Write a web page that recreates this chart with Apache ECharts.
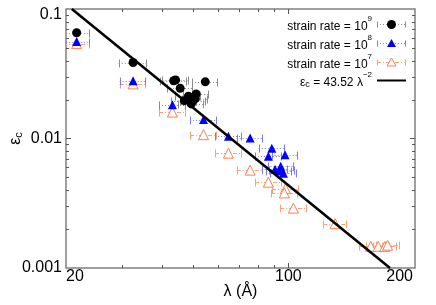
<!DOCTYPE html>
<html><head><meta charset="utf-8">
<script src="https://cdn.jsdelivr.net/npm/echarts@6/dist/echarts.min.js"></script>
<style>html,body{margin:0;padding:0;background:#fff}#c{width:436px;height:305px}</style>
</head><body><div id="c"></div>
<script>
// ---- data ----
const lam9 = [21.6, 32.5, 43.6, 44.2, 45.7, 54.8, 48.5, 51.3, 47.1, 50.0, 49.5, 51.0];
const eps9 = [0.0655, 0.0386, 0.0279, 0.0283, 0.0244, 0.0274, 0.0212, 0.0221, 0.0196, 0.0194, 0.0185, 0.0203];
const err9 = [2.0, 3.2, 4.0, 4.0, 4.2, 5.0, 4.4, 4.6, 4.3, 4.5, 4.5, 4.6];

const lam8 = [21.6, 32.5, 43.2, 54.1, 64.8, 75.8, 88.7, 86.5, 97.6, 90.8, 94.6, 95.3, 96.5, 93.7];
const eps8 = [0.056, 0.0279, 0.0182, 0.0140, 0.0104, 0.0101, 0.0084, 0.0073, 0.0075, 0.0058, 0.0061, 0.0057, 0.0054, 0.0056];
const err8 = [2.0, 3.0, 4.0, 5.0, 6.0, 7.0, 8.0, 8.0, 9.0, 8.3, 8.6, 8.7, 8.8, 8.5];

const lam7 = [21.6, 32.5, 43.2, 54.1, 64.8, 75.8, 86.5, 97.9, 97.1, 103.7, 140.2, 181.4, 191.6, 201.0, 205.0];
const eps7 = [0.054, 0.0264, 0.016, 0.0107, 0.0077, 0.0057, 0.0046, 0.0041, 0.0038, 0.0029, 0.0022, 0.00147, 0.00147, 0.00147, 0.0015];
const err7 = [2.0, 3.0, 4.0, 5.0, 6.0, 7.0, 8.0, 9.0, 9.0, 9.5, 11.5, 15.0, 16.0, 17.0, 17.0];

const fitLam = [20.86, 208.6];
const fitEps = [0.1, 0.001];

const xMinorTicks = [30, 40, 50, 60, 70, 80, 90];
const xMajorTicks = [100];
const xLabelVals = [20, 100, 200];
const xLabelText = ['20', '100', '200'];
const yMinorTicks = [0.002, 0.003, 0.004, 0.005, 0.006, 0.007, 0.008, 0.009, 0.02, 0.03, 0.04, 0.05, 0.06, 0.07, 0.08, 0.09];
const yMajorTicks = [0.01];
const yLabelVals = [0.1, 0.01, 0.001];
const yLabelText = ['0.1', '0.01', '0.001'];

const legendText = ['strain rate = 10{sup|9}', 'strain rate = 10{sup|8}', 'strain rate = 10{sup|7}', 'ε{sub|c} = 43.52 λ{sup|−2}'];

// ---- styling ----
const FONT = "'Liberation Sans', Arial, Helvetica, sans-serif";
const C9 = '#000000', C8 = '#0000ff', C7 = '#ff7f50';
const E9 = '#8c8c8c', E8 = '#7a7aff', E7 = '#ffa07a';
const FRAME = '#808080';

const chart = echarts.init(document.getElementById('c'), null, {renderer: 'canvas'});

function errData(l, e, r) { return l.map((v, i) => [v - r[i], v + r[i], e[i]]); }
function ptData(l, e) { return l.map((v, i) => [v, e[i]]); }

function errRenderer(color, dash) {
  return function (params, api) {
    const y = api.value(2);
    const a = api.coord([api.value(0), y]);
    const b = api.coord([api.value(1), y]);
    const yy = Math.round(a[1]) + 0.5;
    const h = 4;
    return {type: 'group', children: [
      {type: 'line', shape: {x1: a[0], y1: yy, x2: b[0], y2: yy}, style: {stroke: color, lineWidth: 1, lineDash: dash}},
      {type: 'line', shape: {x1: Math.round(a[0]) + 0.5, y1: yy - h, x2: Math.round(a[0]) + 0.5, y2: yy + h}, style: {stroke: color, lineWidth: 1}},
      {type: 'line', shape: {x1: Math.round(b[0]) + 0.5, y1: yy - h, x2: Math.round(b[0]) + 0.5, y2: yy + h}, style: {stroke: color, lineWidth: 1}}
    ]};
  };
}

const xTickData = xMinorTicks.map(v => [v, 0.01, 0]).concat(xMajorTicks.map(v => [v, 0.01, 1]));
const yTickData = yMinorTicks.map(v => [30, v, 0]).concat(yMajorTicks.map(v => [30, v, 1]));

function xTickRender(params, api) {
  const cs = params.coordSys;
  const x = Math.round(api.coord([api.value(0), 0.01])[0]) + 0.5;
  const len = api.value(2) ? 5 : 3;
  const bot = cs.y + cs.height, top = cs.y;
  const st = {stroke: '#555', lineWidth: 1};
  return {type: 'group', children: [
    {type: 'line', shape: {x1: x, y1: bot, x2: x, y2: bot - len}, style: st},
    {type: 'line', shape: {x1: x, y1: top, x2: x, y2: top + len}, style: st}
  ]};
}
function yTickRender(params, api) {
  const cs = params.coordSys;
  const y = Math.round(api.coord([30, api.value(1)])[1]) + 0.5;
  const len = api.value(2) ? 5 : 3;
  const l = cs.x, r = cs.x + cs.width;
  const st = {stroke: '#555', lineWidth: 1};
  return {type: 'group', children: [
    {type: 'line', shape: {x1: l, y1: y, x2: l + len, y2: y}, style: st},
    {type: 'line', shape: {x1: r, y1: y, x2: r - len, y2: y}, style: st}
  ]};
}
const xLabelAlign = ['left', 'center', 'right'];
function xLabelRender(params, api) {
  const cs = params.coordSys;
  const i = params.dataIndex;
  let x = api.coord([api.value(0), 0.01])[0];
  if (xLabelAlign[i] === 'right') x = cs.x + cs.width - 2;
  if (xLabelAlign[i] === 'left') x = cs.x;
  return {type: 'text', style: {x: x, y: cs.y + cs.height + 1, text: xLabelText[i], fill: '#000',
    font: '16px ' + FONT, align: xLabelAlign[i], verticalAlign: 'top'}};
}
function yLabelRender(params, api) {
  const cs = params.coordSys;
  const i = params.dataIndex;
  let y = api.coord([30, api.value(1)])[1];
  y = Math.max(y, cs.y + 6);
  return {type: 'text', style: {x: cs.x - 4, y: y, text: yLabelText[i], fill: '#000',
    font: '16px ' + FONT, align: 'right', verticalAlign: 'middle'}};
}

// legend (drawn as graphic)
const LX = 372, LS0 = 377, LS1 = 406, LM = 391.5;
const LY = [24, 43, 62, 80];
const richL = {
  base: {fontSize: 12, fontFamily: FONT, lineHeight: 18, verticalAlign: 'bottom', color: '#000'},
  sup: {fontSize: 8, fontFamily: FONT, lineHeight: 8, verticalAlign: 'top', color: '#000'},
  sub: {fontSize: 9, fontFamily: FONT, lineHeight: 8, verticalAlign: 'bottom', color: '#000'}
};
function legendSample(y, color, dash, marker) {
  const yy = y + 0.5;
  const els = [
    {type: 'line', shape: {x1: LS0, y1: yy, x2: LS1, y2: yy}, style: {stroke: color, lineWidth: 1, lineDash: dash}},
    {type: 'line', shape: {x1: LS0 + 0.5, y1: yy - 3, x2: LS0 + 0.5, y2: yy + 3}, style: {stroke: color, lineWidth: 1}},
    {type: 'line', shape: {x1: LS1 - 0.5, y1: yy - 3, x2: LS1 - 0.5, y2: yy + 3}, style: {stroke: color, lineWidth: 1}}
  ];
  if (marker === 'circle') els.push({type: 'circle', shape: {cx: LM, cy: yy, r: 4.5}, style: {fill: C9}});
  if (marker === 'tri') els.push({type: 'polygon', shape: {points: [[LM, yy - 4.5], [LM + 4.5, yy + 3.5], [LM - 4.5, yy + 3.5]]}, style: {fill: C8}});
  if (marker === 'otri') els.push({type: 'polygon', shape: {points: [[LM, yy - 4.5], [LM + 4.5, yy + 3.5], [LM - 4.5, yy + 3.5]]}, style: {fill: '#fff', stroke: C7, lineWidth: 1}});
  return els;
}
const graphics = [];
legendText.forEach((t, i) => {
  graphics.push({type: 'text', style: {x: LX, y: LY[i], text: t.replace(/^([^{]*)/, '{base|$1}').replace(/\}([^{}]+)\{/g, '}{base|$1}{'),
    rich: richL, align: 'right', verticalAlign: 'middle'}, z: 100});
});
[].concat(legendSample(LY[0], E9, [1, 2], 'circle'), legendSample(LY[1], E8, [1, 2], 'tri'), legendSample(LY[2], E7, [4, 2, 1, 2], 'otri'))
  .forEach(e => { e.z = 100; graphics.push(e); });
graphics.push({type: 'line', shape: {x1: LS0, y1: LY[3] + 0.5, x2: LS1, y2: LY[3] + 0.5}, style: {stroke: '#000', lineWidth: 2}, z: 100});

const option = {
  animation: false,
  backgroundColor: '#fff',
  grid: {left: 66, right: 21, top: 9, bottom: 34, show: true, borderColor: FRAME, borderWidth: 1.5, containLabel: false},
  xAxis: {type: 'log', min: 20, max: 250, logBase: 10,
    axisLine: {show: false}, axisTick: {show: false}, axisLabel: {show: false}, splitLine: {show: false},
    name: 'λ (Å)', nameLocation: 'middle', nameGap: 16,
    nameTextStyle: {fontFamily: FONT, fontSize: 16, color: '#000'}},
  yAxis: {type: 'log', min: 0.001, max: 0.1, logBase: 10,
    axisLine: {show: false}, axisTick: {show: false}, axisLabel: {show: false}, splitLine: {show: false},
    name: '{b|ε}{s|c}', nameLocation: 'middle', nameGap: 42, nameRotate: 90,
    nameTextStyle: {fontFamily: FONT, fontSize: 16, color: '#000',
      rich: {b: {fontSize: 16, fontFamily: FONT, lineHeight: 20, verticalAlign: 'bottom'},
             s: {fontSize: 11, fontFamily: FONT, lineHeight: 10, verticalAlign: 'bottom'}}}},
  graphic: graphics,
  series: [
    {type: 'custom', name: 'xticks', renderItem: xTickRender, data: xTickData, encode: {x: 0, y: 1}, z: 5, silent: true},
    {type: 'custom', name: 'yticks', renderItem: yTickRender, data: yTickData, encode: {x: 0, y: 1}, z: 5, silent: true},
    {type: 'custom', name: 'xlabels', renderItem: xLabelRender, data: xLabelVals.map(v => [v, 0.01]), encode: {x: 0, y: 1}, clip: false, silent: true},
    {type: 'custom', name: 'ylabels', renderItem: yLabelRender, data: yLabelVals.map(v => [30, v]), encode: {x: 0, y: 1}, clip: false, silent: true},
    {type: 'custom', name: 'err7', renderItem: errRenderer(E7, [4, 2, 1, 2]), data: errData(lam7, eps7, err7), encode: {x: [0, 1], y: 2}, clip: true, z: 2},
    {type: 'custom', name: 'err8', renderItem: errRenderer(E8, [1, 2]), data: errData(lam8, eps8, err8), encode: {x: [0, 1], y: 2}, clip: true, z: 2},
    {type: 'custom', name: 'err9', renderItem: errRenderer(E9, [1, 2]), data: errData(lam9, eps9, err9), encode: {x: [0, 1], y: 2}, clip: true, z: 2},
    {type: 'scatter', name: 'strain rate = 10^7', data: ptData(lam7, eps7), symbol: 'triangle', symbolSize: 10,
      itemStyle: {color: '#fff', borderColor: C7, borderWidth: 1, opacity: 1}, z: 3},
    {type: 'scatter', name: 'strain rate = 10^8', data: ptData(lam8, eps8), symbol: 'triangle', symbolSize: 9,
      itemStyle: {color: C8, opacity: 1}, z: 4},
    {type: 'scatter', name: 'strain rate = 10^9', data: ptData(lam9, eps9), symbol: 'circle', symbolSize: 9,
      itemStyle: {color: C9, opacity: 1}, z: 5},
    {type: 'line', name: 'fit', data: ptData(fitLam, fitEps), symbol: 'none', clip: true,
      lineStyle: {color: '#000', width: 2.5}, z: 6}
  ]
};
chart.setOption(option);
</script>
</body></html>
